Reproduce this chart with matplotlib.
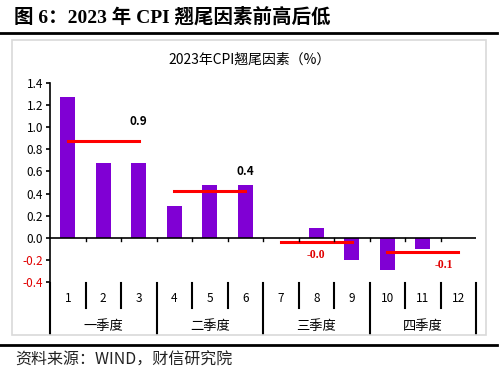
import numpy as np
import matplotlib.pyplot as plt
from matplotlib.patches import Rectangle
from matplotlib.lines import Line2D
import matplotlib.transforms as mtransforms

plt.rcParams['font.family'] = ['Noto Sans CJK SC', 'DejaVu Sans']

# data
months = ['1', '2', '3', '4', '5', '6', '7', '8', '9', '10', '11', '12']
quarters = ['一季度', '二季度', '三季度', '四季度']
tail_factor = [1.27, 0.68, 0.68, 0.29, 0.48, 0.48, 0.0, 0.09, -0.20, -0.29, -0.10, 0.0]
quarter_avg = [0.88, 0.42, -0.04, -0.13]
quarter_text = ['0.9', '0.4', '-0.0', '-0.1']

fig = plt.figure(figsize=(5, 3.74), dpi=100)

# page title and rules
fig.text(0.028, 0.955, '图 6：2023 年 CPI 翘尾因素前高后低', fontsize=14, fontweight='bold',
         family=['Liberation Serif', 'Noto Sans CJK SC'], va='center', ha='left')
fig.add_artist(Line2D([0, 0.994], [0.912, 0.912], color='black', lw=2))
fig.add_artist(Line2D([0, 0.994], [0.078, 0.078], color='black', lw=2))
fig.text(0.03, 0.037, '资料来源：WIND，财信研究院', fontsize=11.5, style='italic',
         va='center', ha='left', color='#222222')

# chart frame
fig.add_artist(Rectangle((0.024, 0.104), 0.948, 0.79, transform=fig.transFigure,
                         fill=False, edgecolor='#d9d9d9', lw=1.2))
fig.text(0.5, 0.84, '2023年CPI翘尾因素（%）', fontsize=10, ha='center', va='center')

ax = fig.add_axes([0.1, 0.246, 0.852, 0.532])
x = np.arange(1, 13)
ax.bar(x, tail_factor, width=0.43, color='#8000d4', zorder=2)

# quarter averages
for i, (avg, txt) in enumerate(zip(quarter_avg, quarter_text)):
    start = 3 * i + 1
    ax.plot([start, start + 2], [avg, avg], color='#ff0000', lw=2.2, zorder=3)
    if avg > 0:
        ax.annotate(txt, (start + 2, avg), xytext=(0, 14), textcoords='offset points',
                    ha='center', va='center', fontsize=8.5, fontweight='bold')
    else:
        xt = start + 1 if i == 2 else start + 1.6
        ax.annotate(txt, (xt, avg), xytext=(0, -9), textcoords='offset points',
                    ha='center', va='center', fontsize=8.5, color='#e00000',
                    family=['Liberation Serif', 'Noto Sans CJK SC'], fontweight='bold')

ax.set_xlim(0.5, 12.5)
ax.set_ylim(-0.4, 1.4)
ax.set_yticks(np.arange(-0.4, 1.41, 0.2))
ax.set_yticklabels([f'{v:.1f}' for v in np.arange(-0.4, 1.41, 0.2)], fontsize=8.5)
for lab, v in zip(ax.get_yticklabels(), np.arange(-0.4, 1.41, 0.2)):
    lab.set_color('#e00000' if v < -0.01 else 'black')
ax.tick_params(axis='y', length=3, width=1.2, pad=2)
ax.set_xticks([])
for s in ['top', 'right', 'bottom']:
    ax.spines[s].set_visible(False)
ax.spines['left'].set_linewidth(1.2)

# horizontal axis at zero with category ticks
ax.axhline(0, color='black', lw=1.2, zorder=4)
trans = mtransforms.blended_transform_factory(ax.transData, ax.transAxes)
for b in np.arange(1.5, 12.5, 1):
    ax.plot([b, b], [0, -0.025], color='black', lw=1, zorder=4)

# multi-level category labels
for b in np.arange(0.5, 13, 1):
    bottom = -0.262 if (b - 0.5) % 3 == 0 else -0.13
    ax.plot([b, b], [-0.005, bottom], color='black', lw=1.5, transform=trans, clip_on=False)
for xi, m in zip(x, months):
    ax.text(xi, -0.085, m, transform=trans, ha='center', va='center', fontsize=8.5)
for i, q in enumerate(quarters):
    ax.text(3 * i + 2, -0.222, q, transform=trans, ha='center', va='center', fontsize=9.5)

fig.savefig('out.png', dpi=100)
